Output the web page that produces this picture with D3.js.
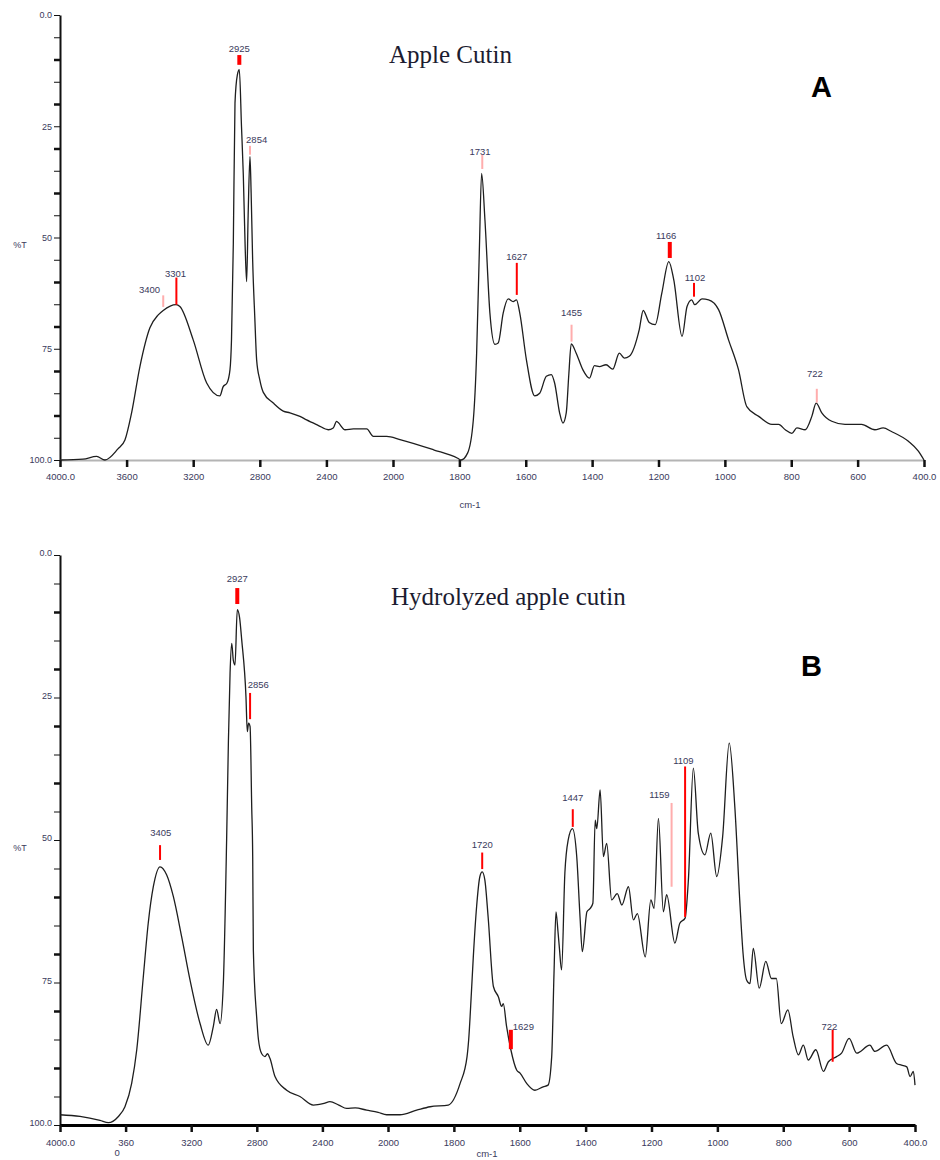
<!DOCTYPE html>
<html>
<head>
<meta charset="utf-8">
<script src="https://cdn.jsdelivr.net/npm/d3@7"></script>
<style>
  body { margin: 0; background: #fff; }
  svg { display: block; }
</style>
</head>
<body>
<div id="chart"></div>
<script>
// ---- data (wavenumber cm-1, %T) ----
var wnA = [4000, 3862, 3780, 3730, 3652, 3610, 3570, 3520, 3460, 3410, 3380, 3303, 3280, 3200, 3119, 3040, 3020, 2997, 2979, 2970,
  2959, 2949, 2935, 2923, 2910, 2899, 2888, 2879, 2870, 2859, 2852, 2843, 2830, 2819, 2800, 2779, 2719, 2659, 2619, 2559,
  2519, 2450, 2389, 2359, 2339, 2329, 2288, 2238, 2158, 2118, 2038, 1979, 1878, 1805, 1795, 1775, 1758, 1748, 1740, 1733,
  1723, 1708, 1693, 1683, 1668, 1653, 1638, 1628, 1618, 1598, 1573, 1558, 1538, 1523, 1513, 1498, 1488, 1478, 1470, 1463,
  1448, 1428, 1408, 1393, 1378, 1358, 1338, 1318, 1303, 1288, 1258, 1246, 1228, 1210, 1190, 1169, 1154, 1129, 1114, 1100,
  1091, 1069, 1049, 1019, 989, 959, 934, 898, 858, 838, 818, 798, 783, 758, 738, 725, 708, 678, 638, 588,
  548, 523, 498, 447, 417, 400];
var tA = [100, 99.8, 99.2, 100, 97.5, 95.5, 89.4, 79, 70.3, 67.4, 66.4, 65.1, 65.5, 73, 82.7, 85.6, 83.5, 82.7, 79.7, 73,
  51.3, 19.8, 13.5, 12.3, 25, 36, 52, 59.9, 45, 31.8, 40, 55, 68, 77.5, 82, 84.8, 87.2, 89, 89.4, 90.2,
  91, 92.2, 93.2, 92.8, 91.3, 91.6, 93.2, 93, 93, 94.7, 94.7, 95.4, 97.7, 99.6, 100, 98.4, 91, 76, 53.5, 35.6,
  46, 67, 74, 73.7, 67, 63.8, 64.4, 64, 67, 77.5, 85.6, 85, 81.2, 80.8, 82.7, 89.4, 91.7, 89.4, 80.5, 73.9,
  76, 79.7, 81.6, 78.8, 79, 78.6, 79.6, 76, 77.1, 76.7, 70.7, 66.4, 69.1, 69.6, 62.5, 55.4, 59.5, 72.2, 65.5, 64,
  65.1, 63.8, 64, 66.2, 73, 79.7, 88, 90.2, 92, 92, 93.2, 94, 92.8, 93.2, 90.2, 87.2, 89.4, 91.3, 92, 92,
  93.2, 92.8, 93.6, 95.8, 98, 100];

var wnB = [4000, 3878, 3756, 3705, 3644, 3604, 3563, 3532, 3492, 3462, 3431, 3390, 3350, 3309, 3258, 3207, 3146, 3096, 3065, 3045,
  3024, 3004, 2984, 2973, 2963, 2953, 2943, 2933, 2919, 2905, 2892, 2866, 2858, 2850, 2841, 2831, 2825, 2821, 2801, 2790,
  2770, 2750, 2735, 2720, 2689, 2618, 2537, 2455, 2390, 2354, 2300, 2252, 2200, 2130, 2060, 2008, 1964, 1913, 1872, 1817,
  1781, 1760, 1755, 1747, 1741, 1731, 1721, 1714, 1706, 1696, 1680, 1665, 1655, 1650, 1640, 1627, 1609, 1599, 1579, 1554,
  1529, 1514, 1503, 1496, 1490, 1484, 1480, 1473, 1463, 1453, 1440, 1427, 1417, 1410, 1396, 1386, 1378, 1371, 1366, 1356,
  1346, 1336, 1321, 1304, 1290, 1270, 1255, 1243, 1219, 1202, 1192, 1179, 1164, 1154, 1129, 1114, 1098, 1088, 1073, 1058,
  1038, 1020, 1002, 984, 964, 947, 931, 922, 911, 901, 891, 873, 853, 836, 821, 806, 786, 770, 754, 739,
  724, 701, 678, 663, 638, 623, 600, 577, 537, 522, 486, 456, 441, 425, 415, 405, 400];
var tB = [98.2, 98.5, 99.2, 99.6, 98.5, 96.8, 92.7, 86.8, 74, 64.6, 58.2, 54.7, 56.1, 59.9, 67, 74.6, 82.2, 86, 82.7, 79.7,
  82.2, 75.1, 50, 32.5, 20.7, 15.5, 18.5, 19.3, 9.6, 11, 14.9, 24.9, 31, 29.5, 30.1, 44.2, 52.9, 69.3, 81, 85,
  87.5, 88, 87.5, 88.3, 91.5, 93.9, 95, 96.5, 96.2, 95.9, 96.5, 97.1, 97, 97.4, 97.8, 98.2, 98.2, 97.4, 96.8, 96.5,
  92.7, 88, 85, 77, 70.5, 61.7, 56.4, 55.6, 57, 63.5, 75.7, 77.5, 79.2, 78.7, 82.7, 86.8, 90.4, 90.9, 92.7, 93.9,
  93.3, 93, 88, 73.4, 62.6, 66, 68.7, 72.8, 55.8, 50, 48, 52.9, 63.5, 69.6, 62.6, 62, 61.1, 46.5, 48, 41.2,
  52.9, 50.6, 60.5, 59.4, 61.4, 58.2, 64, 62.9, 70.5, 60.5, 62, 46.2, 62.6, 59.6, 68.1, 64.6, 63.7, 57, 37.4, 48.8,
  52.6, 48.8, 56.4, 49.4, 33, 44.2, 61.7, 69.9, 74.6, 75.2, 69, 76, 71.3, 74.3, 74.3, 82.2, 79.8, 84.5, 87.7, 86,
  88.6, 86.8, 90.6, 88.9, 88, 87.4, 84.8, 87.4, 86, 87.1, 86, 89.2, 89.5, 89.8, 91.5, 90.6, 93];

// peak markers: label, marker position, label centre, label %T, marker top / bottom %T
var peakLabelsA = ["3400", "3301", "2925", "2854", "1731", "1627", "1455", "1166", "1102", "722"];
var peakWnA = [3380, 3301, 2923, 2859, 1731, 1627, 1462, 1166, 1093, 723];
var peakLabelWnA = [3462, 3306, 2923, 2819, 1738, 1627, 1462, 1177, 1090, 729];
var peakLabelTA = [61.8, 58.2, 7.5, 28.1, 30.7, 54.3, 67, 49.6, 59.1, 80.6];
var peakTopA = [63, 59, 9, 29.4, 31.4, 55.7, 69.6, 51, 60.2, 84];
var peakBotA = [65.6, 65.1, 11.2, 31.4, 34.6, 62.9, 73.4, 54.6, 63.3, 87.1];

var peakLabelsB = ["3405", "2927", "2856", "1720", "1629", "1447", "1159", "1109", "722"];
var peakWnB = [3390, 2919, 2841, 1714, 1627, 1439, 1139, 1098, 650];
var peakLabelWnB = [3386, 2919, 2791, 1714, 1589, 1439, 1176, 1103, 660];
var peakLabelTB = [48.8, 4.2, 22.7, 50.9, 82.7, 42.5, 42.1, 36.1, 82.7];
var peakTopB = [50.9, 5.8, 24.2, 52.2, 83.3, 44.6, 43.5, 37.1, 83.3];
var peakBotB = [53.5, 8.6, 28.8, 55.1, 86.7, 47.7, 58.2, 63.5, 88.9];

// axis ticks
var xTicks = [4000, 3600, 3200, 2800, 2400, 2000, 1800, 1600, 1400, 1200, 1000, 800, 600, 400];
var xTickLabelsA = ["4000.0", "3600", "3200", "2800", "2400", "2000", "1800", "1600", "1400", "1200", "1000", "800", "600", "400.0"];
var xTickLabelsB = ["4000.0", "360\n0", "3200", "2800", "2400", "2000", "1800", "1600", "1400", "1200", "1000", "800", "600", "400.0"];
var yTicks = d3.range(0, 101, 5);
var yTickLabels = { 0: "0.0", 25: "25", 50: "50", 75: "75", 100: "100.0" };

// marker styling
var pinkMarks = ["A3400", "A2854", "A1731", "A1455", "A722", "B1159"];
var thickMarks = ["A2925", "A1166", "B2927", "B1629"];

var svg = d3.select("#chart").append("svg")
    .attr("width", 940)
    .attr("height", 1160)
    .style("font-family", "'Liberation Sans', Arial, sans-serif");

svg.append("rect").attr("width", 940).attr("height", 1160).attr("fill", "#fff");

function drawPanel(p) {
    // x axis is split: 4000-2000 compressed, 2000-400 at double scale
    var x = d3.scaleLinear().domain([4000, 2000, 400]).range(p.xRange);
    var y = d3.scaleLinear().domain([0, 100]).range(p.yRange);
    var g = svg.append("g");

    // y axis
    var y_g = g.append("g")
        .attr("transform", "translate(" + p.xRange[0] + ",0)")
        .call(d3.axisLeft(y).tickValues(yTicks).tickSize(6).tickPadding(2).tickSizeOuter(0)
            .tickFormat(function (d) { return yTickLabels[d] || ""; }));
    y_g.select(".domain").attr("stroke", "#111").attr("stroke-width", 2);
    y_g.selectAll(".tick line")
        .attr("stroke", "#111")
        .attr("stroke-width", function (d) { return (d % 10 === 0 && d % 25 !== 0) ? 2.5 : 1; });
    y_g.selectAll(".tick text")
        .attr("dy", p.yLabelDy)
        .style("font-size", "9px")
        .style("fill", "#3a3a5c");

    // x axis along the 100 %T line
    var x_g = g.append("g")
        .attr("transform", "translate(0," + p.yRange[1] + ")")
        .call(d3.axisBottom(x).tickValues(xTicks).tickSize(7).tickPadding(p.xPad).tickSizeOuter(0)
            .tickFormat(function (d, i) { return p.xLabels[i]; }));
    x_g.select(".domain").attr("stroke", p.xAxisColor).attr("stroke-width", p.xAxisWidth);
    x_g.selectAll(".tick line").attr("stroke", "#111").attr("stroke-width", 2.5);
    x_g.selectAll(".tick text")
        .style("font-size", "9.5px")
        .style("fill", "#3a3a5c")
        .each(function (d, i) {
            // the reference wraps one label onto two lines
            var parts = p.xLabels[i].split("\n");
            if (parts.length > 1) {
                var t = d3.select(this).text(null);
                parts.forEach(function (s, k) {
                    t.append("tspan").attr("x", k ? -9 : 0).attr("dy", k ? "1.1em" : "0.71em").text(s);
                });
                t.attr("dy", null);
            }
        });

    // spectrum
    var line = d3.line()
        .x(function (d) { return x(d[0]); })
        .y(function (d) { return y(d[1]); })
        .curve(d3.curveMonotoneX);
    g.append("path")
        .datum(d3.zip(p.wn, p.t))
        .attr("d", line)
        .attr("fill", "none")
        .attr("stroke", "#1e1e1e")
        .attr("stroke-width", 1.3)
        .attr("stroke-linejoin", "round");

    // peak markers
    p.labels.forEach(function (lab, i) {
        var key = p.name + lab;
        g.append("line")
            .attr("x1", x(p.peakWn[i])).attr("x2", x(p.peakWn[i]))
            .attr("y1", y(p.top[i])).attr("y2", y(p.bot[i]))
            .attr("stroke", pinkMarks.indexOf(key) >= 0 ? "#ffadad" : "#ff0000")
            .attr("stroke-width", thickMarks.indexOf(key) >= 0 ? 4 : 2);
        g.append("text")
            .attr("x", x(p.labelWn[i]))
            .attr("y", y(p.labelT[i]))
            .attr("dy", "0.35em")
            .attr("text-anchor", "middle")
            .style("font-size", "9.5px")
            .style("fill", "#3a3a5c")
            .text(lab);
    });

    // axis titles
    g.append("text").attr("x", 20).attr("y", y(p.unitT)).attr("dy", "0.35em")
        .attr("text-anchor", "middle").style("font-size", "9px").style("fill", "#3a3a5c").text("%T");
    g.append("text").attr("x", p.cmPos[0]).attr("y", p.cmPos[1]).attr("dy", "0.35em")
        .attr("text-anchor", "middle").style("font-size", "9.5px").style("fill", "#3a3a5c").text("cm-1");

    g.append("text").attr("x", p.titlePos[0]).attr("y", p.titlePos[1])
        .style("font-family", "'Liberation Serif', 'Times New Roman', serif")
        .style("font-size", "25px").style("fill", "#1c1c30").text(p.title);
    g.append("text").attr("x", p.letterPos[0]).attr("y", p.letterPos[1])
        .style("font-size", "29px").style("font-weight", "bold").style("fill", "#000").text(p.letter);
}

drawPanel({
    name: "A", wn: wnA, t: tA,
    labels: peakLabelsA, peakWn: peakWnA, labelWn: peakLabelWnA, labelT: peakLabelTA, top: peakTopA, bot: peakBotA,
    xRange: [60, 393, 924], yRange: [15, 460], yLabelDy: "0.32em",
    xLabels: xTickLabelsA, xPad: 6, xAxisColor: "#b4b4b4", xAxisWidth: 2,
    unitT: 51.6, cmPos: [470, 505],
    title: "Apple Cutin", titlePos: [389, 63], letter: "A", letterPos: [811, 97]
});

drawPanel({
    name: "B", wn: wnB, t: tB,
    labels: peakLabelsB, peakWn: peakWnB, labelWn: peakLabelWnB, labelT: peakLabelTB, top: peakTopB, bot: peakBotB,
    xRange: [60, 388, 915], yRange: [555, 1125], yLabelDy: "0.1em",
    xLabels: xTickLabelsB, xPad: 7, xAxisColor: "#000", xAxisWidth: 3,
    unitT: 51.4, cmPos: [487, 1154],
    title: "Hydrolyzed apple cutin", titlePos: [391, 605], letter: "B", letterPos: [801, 676]
});
</script>
</body>
</html>
